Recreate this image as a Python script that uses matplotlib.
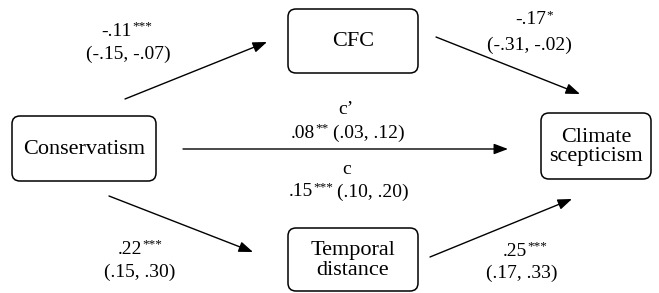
import matplotlib.pyplot as plt
from matplotlib.patches import FancyBboxPatch, FancyArrowPatch

plt.rcParams['font.family'] = ['Liberation Serif', 'DejaVu Serif']

# nodes of the mediation model
nodes = ["Conservatism", "CFC", "Temporal\ndistance", "Climate\nscepticism"]

# path estimates: a1, b1, a2, b2, c', c
coefs = ["-.11", "-.17", ".22", ".25", ".08", ".15"]
stars = ["***", "*", "***", "***", "**", "***"]
ci_low = ["-.15", "-.31", ".15", ".17", ".03", ".10"]
ci_high = ["-.07", "-.02", ".30", ".33", ".12", ".20"]

# layout (pixel coords, y down)
boxes = {
    "Conservatism": (12, 116, 144, 65),
    "CFC": (288, 9, 130, 64),
    "Temporal\ndistance": (288, 228, 130, 63),
    "Climate\nscepticism": (541, 113, 110, 66),
}
arrows = [((125, 99), (267, 42)),
          ((436, 37), (580, 94)),
          ((109, 196), (253, 252)),
          ((430, 257), (572, 199)),
          ((183, 149), (508, 149))]

fig = plt.figure(figsize=(6.59, 2.93), dpi=100)
ax = fig.add_axes([0, 0, 1, 1])
ax.set_xlim(0, 659)
ax.set_ylim(293, 0)
ax.axis("off")

for name in nodes:
    x, y, w, h = boxes[name]
    ax.add_patch(FancyBboxPatch((x, y), w, h, boxstyle="round,pad=0,rounding_size=8",
                                fc="white", ec="black", lw=1.1))
    ax.text(x + w / 2, y + h / 2 + 1, name, ha="center", va="center",
            fontsize=16, linespacing=1.05)

for (p0, p1) in arrows:
    ax.add_patch(FancyArrowPatch(p0, p1, arrowstyle="-|>,head_length=0.85,head_width=0.32",
                                 mutation_scale=10, lw=1.0, color="black",
                                 shrinkA=0, shrinkB=0))

fs = 14
sfs = 9.5


def ci(i):
    return "(" + ci_low[i] + ", " + ci_high[i] + ")"


def est(i, xr, y, with_ci=False):
    t = ax.text(xr, y, coefs[i], ha="right", va="center", fontsize=fs)
    s = ax.annotate(stars[i], xy=(1, 1), xycoords=t, xytext=(0.3, 1.8),
                    textcoords="offset points", ha="left", va="top", fontsize=sfs)
    if with_ci:
        ax.annotate(ci(i), xy=(1, 0.5), xycoords=(s, t), xytext=(3, 0),
                    textcoords="offset points", ha="left", va="center", fontsize=fs)


# a1
est(0, 132, 31)
ax.text(128, 54, ci(0), ha="center", va="center", fontsize=fs)
# b1
est(1, 546, 20)
ax.text(529, 45, ci(1), ha="center", va="center", fontsize=fs)
# a2
est(2, 142, 249)
ax.text(140, 272, ci(2), ha="center", va="center", fontsize=fs)
# b2
est(3, 527, 251)
ax.text(522, 273, ci(3), ha="center", va="center", fontsize=fs)
# direct and total
ax.text(346, 110, "c’", ha="center", va="center", fontsize=fs)
est(4, 315, 133, with_ci=True)
ax.text(347, 170, "c", ha="center", va="center", fontsize=fs)
est(5, 313, 192, with_ci=True)

fig.savefig("out.png", dpi=100)
